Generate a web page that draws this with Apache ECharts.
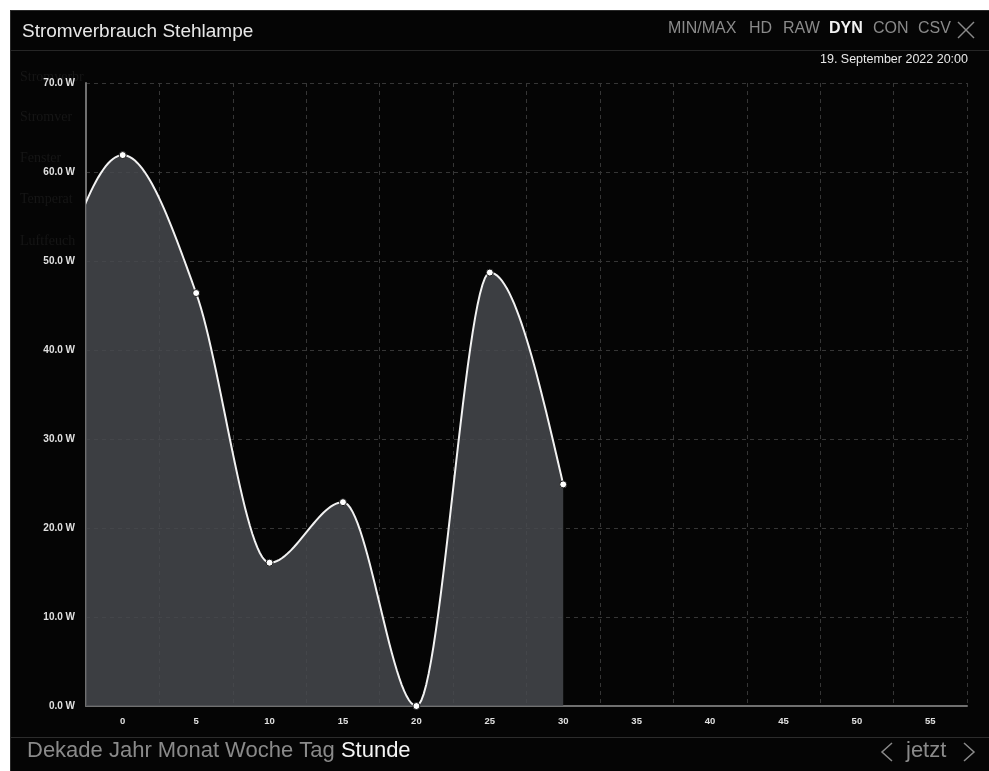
<!DOCTYPE html>
<html>
<head>
<meta charset="utf-8">
<script src="https://cdn.jsdelivr.net/npm/echarts@6/dist/echarts.min.js"></script>
<style>
html,body{margin:0;padding:0;background:#fff;}
#wrap{position:absolute;left:10px;top:10px;width:979px;height:761px;background:#050505;border-left:1px solid #2a2a2a;border-top:1px solid #2a2a2a;box-sizing:border-box;}
#chart{position:absolute;left:0;top:0;width:989px;height:771px;}
</style>
</head>
<body>
<div id="wrap"></div>
<div id="chart"></div>
<script>
// data
const title = 'Stromverbrauch Stehlampe';
const dateText = '19. September 2022 20:00';
const hours = [-5, 0, 5, 10, 15, 20, 25, 30];
const watts = [45, 61.9, 46.4, 16.1, 22.9, 0, 48.7, 24.9];
const xTickLabels = [0, 5, 10, 15, 20, 25, 30, 35, 40, 45, 50, 55];
const yTicks = [0, 10, 20, 30, 40, 50, 60, 70];
const modes = ['MIN/MAX', 'HD', 'RAW', 'DYN', 'CON', 'CSV'];
const activeMode = 'DYN';
const ranges = ['Dekade', 'Jahr', 'Monat', 'Woche', 'Tag', 'Stunde'];
const activeRange = 'Stunde';
const ghostLabels = ['Stromverbr', 'Stromver', 'Fenster', 'Temperat', 'Luftfeuch'];

const X_MIN = -2.5, X_MAX = 57.5;
const chart = echarts.init(document.getElementById('chart'), null, {renderer: 'canvas'});
const font = '"Liberation Sans", Arial, sans-serif';

const graphics = [];
graphics.push({type: 'rect', shape: {x: 11, y: 50, width: 978, height: 1}, style: {fill: '#262626'}, silent: true});
graphics.push({type: 'rect', shape: {x: 11, y: 737, width: 978, height: 1}, style: {fill: '#2c2c2c'}, silent: true});
graphics.push({type: 'text', left: 22, top: 22, style: {text: title, font: '19px ' + font, fill: '#e8e8e8'}});
const modeX = [668, 749, 783, 829, 873, 918];
modes.forEach((m, i) => {
  graphics.push({type: 'text', left: modeX[i], top: 21, style: {text: m, font: (m === activeMode ? 'bold ' : '') + '16px ' + font, fill: m === activeMode ? '#f2f2f2' : '#8a8a8a'}});
});
graphics.push({type: 'line', shape: {x1: 958, y1: 22, x2: 974, y2: 38}, style: {stroke: '#8a8a8a', lineWidth: 1.5}});
graphics.push({type: 'line', shape: {x1: 974, y1: 22, x2: 958, y2: 38}, style: {stroke: '#8a8a8a', lineWidth: 1.5}});
graphics.push({type: 'text', right: 21, top: 53, style: {text: dateText, font: '12.5px ' + font, fill: '#e8e8e8'}});
const ghostY = [70, 110, 151, 192, 234];
ghostLabels.forEach((g, i) => {
  graphics.push({type: 'text', left: 20, top: ghostY[i], z: -10, style: {text: g, font: '14px "Liberation Serif", serif', fill: '#161616'}});
});
graphics.push({type: 'text', left: 27, top: 740, style: {
  text: ranges.map(r => (r === activeRange ? '{a|' : '{n|') + r + '}').join('{n| }'),
  rich: {n: {fontSize: 22, fontFamily: font, fill: '#8a8a8a'}, a: {fontSize: 22, fontFamily: font, fill: '#f4f4f4'}}
}});
graphics.push({type: 'polyline', shape: {points: [[892, 743], [882, 752], [892, 761]]}, style: {stroke: '#8a8a8a', lineWidth: 1.5, fill: null}});
graphics.push({type: 'text', left: 906, top: 740, style: {text: 'jetzt', font: '22px ' + font, fill: '#8a8a8a'}});
graphics.push({type: 'polyline', shape: {points: [[964, 743], [974, 752], [964, 761]]}, style: {stroke: '#8a8a8a', lineWidth: 1.5, fill: null}});

// monotone cubic (x) curve through pixel nodes, sampled into a polyline
function monotoneCurve(pts) {
  const n = pts.length;
  if (n < 2) return pts.slice();
  const sgn = v => (v > 0 ? 1 : v < 0 ? -1 : 0);
  const s = [];
  for (let i = 0; i < n - 1; i++) s.push((pts[i + 1][1] - pts[i][1]) / (pts[i + 1][0] - pts[i][0]));
  const t = new Array(n).fill(0);
  for (let i = 1; i < n - 1; i++) {
    const h0 = pts[i][0] - pts[i - 1][0], h1 = pts[i + 1][0] - pts[i][0];
    const s0 = s[i - 1], s1 = s[i];
    const p = (s0 * h1 + s1 * h0) / (h0 + h1);
    t[i] = (sgn(s0) + sgn(s1)) * Math.min(Math.abs(s0), Math.abs(s1), 0.5 * Math.abs(p)) || 0;
  }
  t[0] = n > 2 ? (3 * s[0] - t[1]) / 2 : s[0];
  t[n - 1] = n > 2 ? (3 * s[n - 2] - t[n - 2]) / 2 : s[0];
  const out = [pts[0]];
  const STEPS = 30;
  for (let i = 0; i < n - 1; i++) {
    const [x0, y0] = pts[i], [x1, y1] = pts[i + 1];
    const dx = (x1 - x0) / 3;
    const c1 = [x0 + dx, y0 + dx * t[i]], c2 = [x1 - dx, y1 - dx * t[i + 1]];
    for (let k = 1; k <= STEPS; k++) {
      const u = k / STEPS, v = 1 - u;
      out.push([
        v * v * v * x0 + 3 * v * v * u * c1[0] + 3 * v * u * u * c2[0] + u * u * u * x1,
        v * v * v * y0 + 3 * v * v * u * c1[1] + 3 * v * u * u * c2[1] + u * u * u * y1
      ]);
    }
  }
  return out;
}

const seriesData = hours.map((h, i) => [h, watts[i]]);
const visiblePoints = seriesData.filter(d => d[0] >= X_MIN && d[0] <= X_MAX);

const option = {
  backgroundColor: 'transparent',
  animation: false,
  grid: {left: 86, right: 22, top: 83, bottom: 65},
  xAxis: [{
    type: 'value', min: X_MIN, max: X_MAX, interval: 5,
    axisLine: {show: true, onZero: false, lineStyle: {color: '#707070', width: 2}},
    axisTick: {show: false},
    axisLabel: {show: false},
    splitLine: {show: true, lineStyle: {color: '#363636', type: [4, 4], width: 1}}
  }, {
    type: 'value', min: X_MIN, max: X_MAX, position: 'bottom', offset: 0,
    axisLine: {show: false}, axisTick: {show: false}, splitLine: {show: false},
    axisLabel: {show: true, customValues: xTickLabels, color: '#e0e0e0', fontSize: 9.5, fontWeight: 'bold', fontFamily: font, margin: 10}
  }],
  yAxis: {
    type: 'value', min: yTicks[0], max: yTicks[yTicks.length - 1], interval: 10,
    axisLine: {show: true, onZero: false, lineStyle: {color: '#707070', width: 2}},
    axisTick: {show: false},
    axisLabel: {color: '#e0e0e0', fontSize: 10, fontWeight: 'bold', fontFamily: font, margin: 11, formatter: v => v.toFixed(1) + ' W'},
    splitLine: {show: true, lineStyle: {color: '#363636', type: [4, 4], width: 1}}
  },
  series: [{
    type: 'custom',
    xAxisIndex: 0, yAxisIndex: 0,
    data: seriesData,
    clip: true,
    z: 2,
    renderItem: function (params, api) {
      if (params.dataIndex !== 0) return null;
      const nodes = seriesData.map(d => api.coord(d));
      const curve = monotoneCurve(nodes);
      const baseY = api.coord([0, 0])[1];
      const cs = params.coordSys;
      const area = curve.concat([[curve[curve.length - 1][0], baseY], [curve[0][0], baseY]]);
      return {
        type: 'group',
        clipPath: {type: 'rect', shape: {x: cs.x, y: cs.y - 5, width: cs.width, height: cs.height + 5}},
        children: [
          {type: 'polygon', shape: {points: area}, style: {fill: 'rgba(72,74,79,0.84)'}},
          {type: 'polyline', shape: {points: curve}, style: {stroke: '#f2f2f2', lineWidth: 2, fill: null}}
        ]
      };
    }
  }, {
    type: 'scatter',
    xAxisIndex: 0, yAxisIndex: 0,
    data: visiblePoints,
    symbol: 'circle', symbolSize: 7,
    z: 3,
    itemStyle: {color: '#ffffff', borderColor: '#1a1a1a', borderWidth: 1, opacity: 1}
  }],
  graphic: graphics
};
chart.setOption(option);
</script>
</body>
</html>
